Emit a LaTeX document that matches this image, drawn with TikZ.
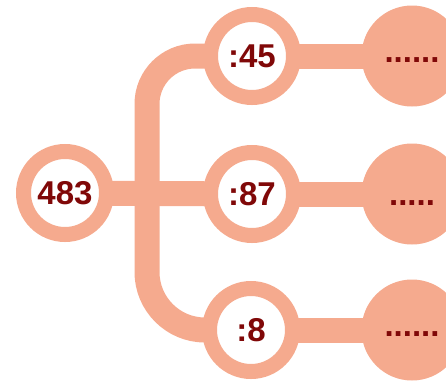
\documentclass[tikz,border=0pt]{standalone}
\usepackage{fontspec}
\setmainfont{Liberation Sans}
\usetikzlibrary{backgrounds}
\definecolor{peach}{RGB}{245,170,142}
\definecolor{wine}{RGB}{128,8,8}
\tikzset{
	digits/.style={text=wine,font=\fontsize{33}{36}\selectfont\bfseries},
	ring/.style={circle,draw=peach,line width=15,fill=white,minimum size=83,inner sep=0pt,digits},
	blob/.style={circle,fill=peach,minimum size=101,inner sep=0pt,text height=12pt,text depth=0pt,digits},
	link/.style={draw=peach,line width=25}
}
\begin{document}
\begin{tikzpicture}[x=1pt,y=-1pt]
	\useasboundingbox (0,0) rectangle (446,381);
	\node[ring] (n483) at (65,193) {483};
	\node[ring] (d45) at (252,56) {:45};
	\node[ring] (d87) at (252,194) {:87};
	\node[ring] (d8) at (251,330) {:8};
	\node[blob] (r45) at (412,56) {......};
	\node[blob,text height=22pt] (r87) at (412,194) {.....};
	\node[blob] (r8) at (412,330) {......};
	\coordinate (fork) at (147,194);
	\begin{scope}[on background layer]
		\draw[link] (n483.center) -- (d87.center);
		\draw[link,rounded corners=48] (d45.center) -| (fork);
		\draw[link,rounded corners=58] (fork) |- (d8.center);
		\draw[link] (d45.center) -- (r45.center);
		\draw[link] (d87.center) -- (r87.center);
		\draw[link] (d8.center) -- (r8.center);
	\end{scope}
\end{tikzpicture}
\end{document}
